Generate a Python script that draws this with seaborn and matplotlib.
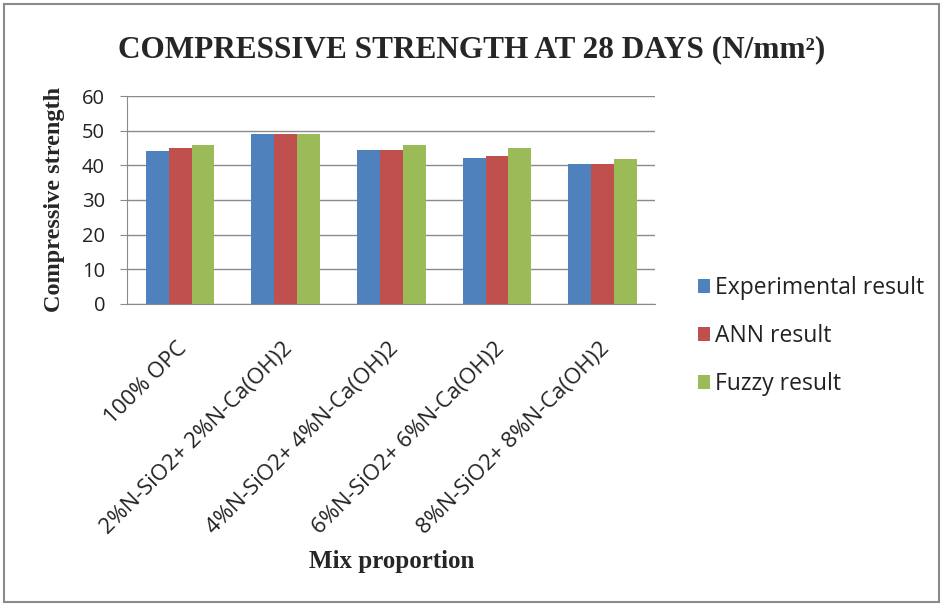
import numpy as np
import pandas as pd
import seaborn as sns
import matplotlib.pyplot as plt
import matplotlib.transforms as mtrans
from matplotlib.patches import Rectangle

mixes = ["100% OPC",
         "2%N-SiO2+ 2%N-Ca(OH)2",
         "4%N-SiO2+ 4%N-Ca(OH)2",
         "6%N-SiO2+ 6%N-Ca(OH)2",
         "8%N-SiO2+ 8%N-Ca(OH)2"]
series = ["Experimental result", "ANN result", "Fuzzy result"]
experimental = [44.0, 49.0, 44.4, 42.1, 40.4]
ann = [44.9, 49.0, 44.4, 42.6, 40.4]
fuzzy = [46.0, 49.0, 46.0, 44.9, 41.8]
colors = ["#4F81BD", "#C0504D", "#9BBB59"]

df = pd.DataFrame({
    "mix": mixes * 3,
    "series": np.repeat(series, len(mixes)),
    "value": experimental + ann + fuzzy,
})

sns.set_style("white")
plt.rcParams["font.family"] = ["Open Sans", "DejaVu Sans"]

fig = plt.figure(figsize=(9.43, 6.04), dpi=100)
ax = fig.add_axes([0.135, 0.497, 0.56, 0.344])

sns.barplot(data=df, x="mix", y="value", hue="series", hue_order=series,
            palette=colors, width=0.65, gap=0, saturation=1, ax=ax,
            edgecolor="none", errorbar=None)

ax.set_ylim(0, 60)
ax.set_yticks(range(0, 61, 10))
ax.yaxis.grid(True, color="#8a8a8a", linewidth=1)
ax.set_axisbelow(True)
ax.set_xlim(-0.5, len(mixes) - 0.5)
for s in ["top", "right"]:
    ax.spines[s].set_visible(False)
ax.spines["left"].set_color("#8a8a8a")
ax.spines["bottom"].set_color("#8a8a8a")
ax.tick_params(axis="y", left=True, length=5, color="#8a8a8a", labelsize=14.5,
               labelcolor="#222222", pad=11)
ax.tick_params(axis="x", bottom=False, labelsize=16, labelcolor="#222222", pad=0)
shift = mtrans.ScaledTranslation(0.04, -0.37, fig.dpi_scale_trans)
for lbl in ax.get_xticklabels():
    lbl.set_rotation(45)
    lbl.set_ha("right")
    lbl.set_va("center")
    lbl.set_rotation_mode("anchor")
    lbl.set_transform(lbl.get_transform() + shift)

ax.set_xlabel("Mix proportion", family="Liberation Serif", fontweight="bold",
              fontsize=18, labelpad=8)
ax.set_ylabel("Compressive strength", family="Liberation Serif", fontweight="bold",
              fontsize=17.5, labelpad=12)

fig.text(0.5, 0.918, "COMPRESSIVE STRENGTH AT 28 DAYS (N/mm\u00b2)",
         ha="center", va="center", family="Liberation Serif", fontweight="bold",
         fontsize=22.5)

leg = ax.legend(loc="center left", bbox_to_anchor=(1.08, -0.155), frameon=False,
                fontsize=16.5, handlelength=0.55, handleheight=0.55,
                handletextpad=0.2, labelspacing=1.05, borderaxespad=0, borderpad=0)
for t in leg.get_texts():
    t.set_color("#222222")

fig.patches.append(Rectangle((0.004, 0.004), 0.992, 0.99, transform=fig.transFigure,
                             fill=False, edgecolor="#8a8a8a", linewidth=1.5))

fig.savefig("out.png", dpi=100)
